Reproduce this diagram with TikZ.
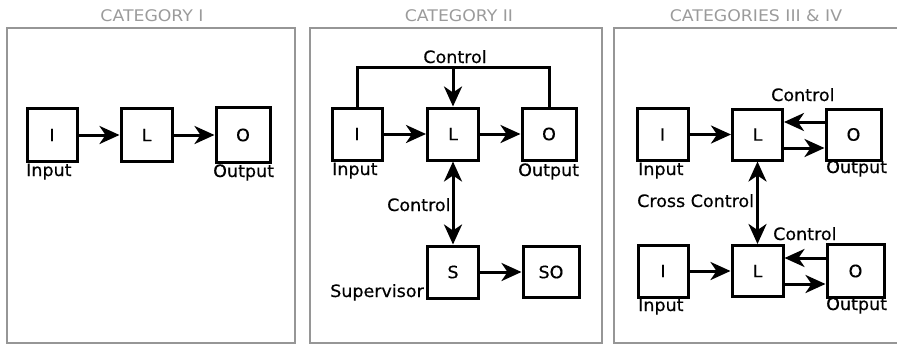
\documentclass[tikz,border=0pt]{standalone}
\usepackage{fontspec}
\setmainfont[FakeStretch=1.03,FakeBold=0.4]{DejaVu Sans}
\newfontfamily\ttlfont[FakeStretch=1.08]{DejaVu Sans}
\usetikzlibrary{arrows.meta}
\definecolor{framegray}{RGB}{150,150,150}
\definecolor{titlegray}{RGB}{155,155,155}
\begin{document}
\begin{tikzpicture}[x=1pt,y=-1pt,
  box/.style={draw,line width=3pt,inner sep=0pt,font=\fontsize{17}{19}\selectfont},
  lbl/.style={inner sep=0pt,font=\fontsize{17}{19}\selectfont},
  ttl/.style={inner sep=0pt,text=titlegray,font=\ttlfont\fontsize{16}{18}\selectfont},
  panel/.style={draw=framegray,line width=2.4pt},
  tip/.tip={Stealth[length=20pt,width=18pt,inset=6pt]},
  arr/.style={line width=3pt,-tip},
  darr/.style={line width=3pt,tip-tip},
  ln/.style={line width=3pt}
  ]
\useasboundingbox (0,0) rectangle (897,346);
% panels
\draw[panel] (7,28) rectangle (295,343);
\draw[panel] (310,28) rectangle (602,343);
\draw[panel] (614,28) rectangle (898,343);
\node[ttl,anchor=base] (t1) at (152,21) {CATEGORY I};
\node[ttl,anchor=base] (t2) at (459,21) {CATEGORY II};
\node[ttl,anchor=base] (t3) at (756,21) {CATEGORIES III \& IV};
% ---- Category I
\node[box,minimum width=50pt,minimum height=53pt] (I1) at (52,135) {I};
\node[box,minimum width=51pt,minimum height=53pt] (L1) at (146.5,135) {L};
\node[box,minimum width=54pt,minimum height=55pt] (O1) at (243,135) {O};
\draw[arr] (I1) -- (L1);
\draw[arr] (L1) -- (O1);
\node[lbl,anchor=base west] (in1) at (26,176) {Input};
\node[lbl,anchor=base west] (out1) at (213,177) {Output};
% ---- Category II
\node[box,minimum width=50pt,minimum height=52pt] (I2) at (357,134) {I};
\node[box,minimum width=51pt,minimum height=52pt] (L2) at (453,134) {L};
\node[box,minimum width=54pt,minimum height=52pt] (O2) at (549,134) {O};
\node[box,minimum width=51pt,minimum height=52pt] (S2) at (453,272) {S};
\node[box,minimum width=56pt,minimum height=51pt] (SO2) at (551,272) {SO};
\coordinate (ctop) at (453,67);
\draw[ln] (I2.north) |- (ctop) -| (O2.north);
\draw[arr] (ctop) -- (L2);
\draw[arr] (I2) -- (L2);
\draw[arr] (L2) -- (O2);
\draw[darr] (L2) -- (S2);
\draw[arr] (S2) -- (SO2);
\node[lbl,anchor=base] (c2a) at (455,63) {Control};
\node[lbl,anchor=base west] (c2b) at (387,211) {Control};
\node[lbl,anchor=base west] (in2) at (332,175) {Input};
\node[lbl,anchor=base west] (out2) at (518,176) {Output};
\node[lbl,anchor=base west] (sup2) at (330,297) {Supervisor};
% ---- Categories III & IV
\node[box,minimum width=51pt,minimum height=52pt] (I3) at (662.5,134.5) {I};
\node[box,minimum width=50pt,minimum height=51pt] (L3) at (757.5,134.5) {L};
\node[box,minimum width=55pt,minimum height=51pt] (O3) at (853.5,134.5) {O};
\draw[arr] (I3) -- (L3);
\draw[arr] ([yshift=12.5pt]O3.west) -- ([yshift=12.5pt]L3.east);
\draw[arr] ([yshift=-13.5pt]L3.east) -- ([yshift=-13.5pt]O3.west);
\node[lbl,anchor=base west] (c3a) at (771,101) {Control};
\node[lbl,anchor=base west] (in3) at (638,175) {Input};
\node[lbl,anchor=base west] (out3) at (826,173) {Output};
\node[box,minimum width=50pt,minimum height=52pt] (I4) at (663,271) {I};
\node[box,minimum width=51pt,minimum height=51pt] (L4) at (757.5,271) {L};
\node[box,minimum width=57pt,minimum height=53pt] (O4) at (855.5,271) {O};
\draw[arr] (I4) -- (L4);
\draw[arr] ([yshift=13pt]O4.west) -- ([yshift=13pt]L4.east);
\draw[arr] ([yshift=-13pt]L4.east) -- ([yshift=-13pt]O4.west);
\draw[darr] (L3) -- (L4);
\node[lbl,anchor=base west] (c3b) at (637,207) {Cross Control};
\node[lbl,anchor=base west] (c4a) at (773,240) {Control};
\node[lbl,anchor=base west] (in4) at (638,311) {Input};
\node[lbl,anchor=base west] (out4) at (826,310) {Output};
\end{tikzpicture}
\end{document}
